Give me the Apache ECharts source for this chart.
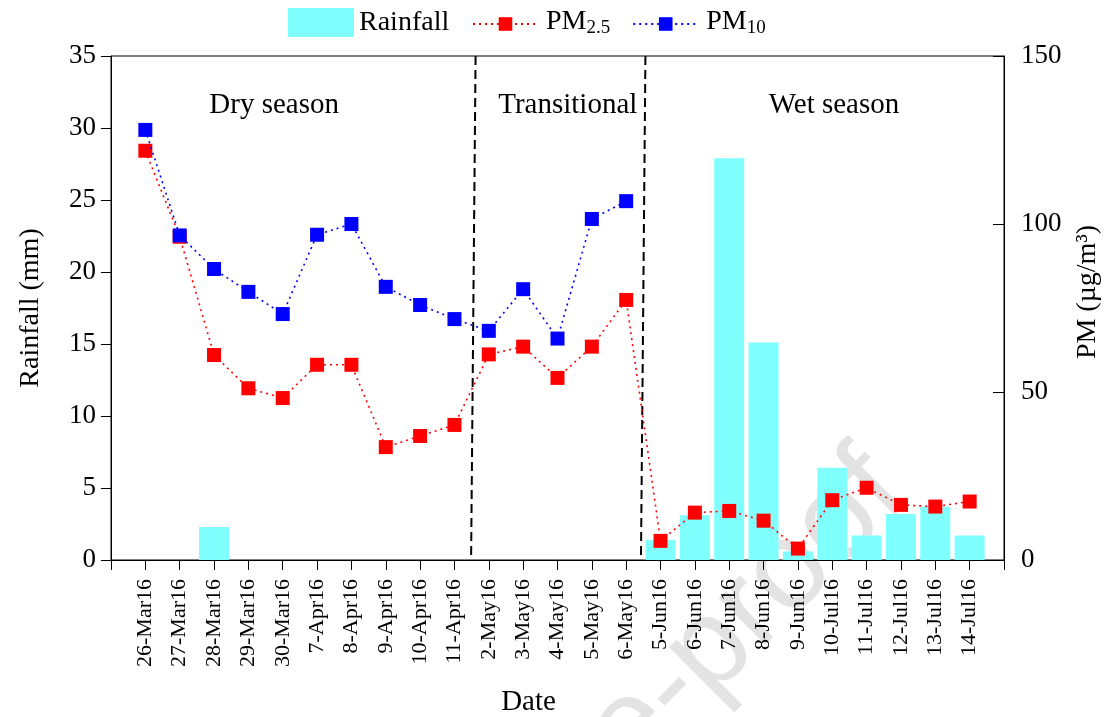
<!DOCTYPE html>
<html><head><meta charset="utf-8">
<script src="https://cdn.jsdelivr.net/npm/echarts@6/dist/echarts.min.js"></script>
<style>html,body{margin:0;padding:0;background:#fff}#c{width:1106px;height:717px}</style>
</head><body><div id="c"></div>
<script>
const categories = ['26-Mar16','27-Mar16','28-Mar16','29-Mar16','30-Mar16','7-Apr16','8-Apr16','9-Apr16','10-Apr16','11-Apr16',
  '2-May16','3-May16','4-May16','5-May16','6-May16','5-Jun16','6-Jun16','7-Jun16','8-Jun16','9-Jun16',
  '10-Jul16','11-Jul16','12-Jul16','13-Jul16','14-Jul16'];
const rainfall = [null,null,2.3,null,null,null,null,null,null,null,null,null,null,null,null,1.4,3.1,27.9,15.1,0.6,6.4,1.7,3.2,3.7,1.7];
const pm25 = [121.8,96.2,61.0,51.1,48.2,58.1,58.1,33.6,36.9,40.2,61.2,63.5,54.2,63.5,77.4,5.7,14.1,14.6,11.7,3.4,17.8,21.5,16.4,15.9,17.4];
const pm10 = [128.0,96.6,86.6,79.8,73.2,96.8,100.0,81.3,75.9,71.7,68.2,80.6,65.9,101.5,106.8];
const rainTicks = {min:0, max:35, interval:5};
const pmTicks = {min:0, max:150, interval:50};
const seasonLabels = [['Dry season',3.75],['Transitional',12.3],['Wet season',20.05]];
const seasonBreaks = [[9.615,9.484],[14.56,14.43]];

const FONT = '"Liberation Serif","Times New Roman",serif';
const chart = echarts.init(document.getElementById('c'));
const idx = a => a.map((v,i)=>[i,v]).filter(d=>d[1]!=null);

const option = {
  animation:false,
  backgroundColor:'#fff',
  textStyle:{fontFamily:FONT,color:'#000'},
  grid:{left:111,right:102,top:56,bottom:157,outerBoundsMode:'none',containLabel:false,
    show:true,borderColor:'#000',borderWidth:1,backgroundColor:'transparent'},
  legend:[{
    data:[{name:'Rainfall',icon:'rect'}], left:288, top:8, padding:0, itemWidth:66, itemHeight:29,
    textStyle:{fontFamily:FONT,fontSize:28,color:'#000'}
  },{
    data:['PM2.5','PM10'], left:472, top:5, padding:0, itemWidth:65, itemHeight:17, itemGap:22,
    formatter: n => n==='PM2.5' ? '{m|PM}{s|2.5}' : '{m|PM}{s|10}',
    textStyle:{fontFamily:FONT,color:'#000',
      rich:{m:{fontFamily:FONT,fontSize:28,lineHeight:28,padding:[3,0,7,3],color:'#000'},
            s:{fontFamily:FONT,fontSize:19,lineHeight:19,verticalAlign:'bottom',color:'#000'}}}
  }],
  xAxis:{type:'value',min:-1,max:25,interval:1,
    name:'Date',nameLocation:'middle',nameGap:128,
    nameTextStyle:{fontFamily:FONT,fontSize:29,color:'#000',padding:[0,58,0,0]},
    axisLine:{show:true,onZero:false,lineStyle:{color:'#000',width:1}},
    axisTick:{show:true,inside:false,length:10,lineStyle:{color:'#000'}},
    splitLine:{show:false},
    axisLabel:{rotate:90,margin:19,fontFamily:FONT,fontSize:22,color:'#000',
      formatter:v=>categories[v]||''}
  },
  yAxis:[{type:'value',position:'left',min:rainTicks.min,max:rainTicks.max,interval:rainTicks.interval,
    name:'Rainfall (mm)',nameLocation:'middle',nameRotate:90,nameGap:66,
    nameTextStyle:{fontFamily:FONT,fontSize:28,color:'#000'},
    axisLine:{show:true,onZero:false,lineStyle:{color:'#000'}},
    axisTick:{show:true,inside:false,length:10,lineStyle:{color:'#000'}},
    splitLine:{show:false},
    axisLabel:{margin:15,fontFamily:FONT,fontSize:27,color:'#000'}
  },{type:'value',position:'right',min:pmTicks.min,max:pmTicks.max,interval:pmTicks.interval,
    name:'PM (µg/m³)',nameLocation:'middle',nameRotate:90,nameGap:70,
    nameTextStyle:{fontFamily:FONT,fontSize:28,color:'#000',padding:[0,0,0,32]},
    axisLine:{show:true,onZero:false,lineStyle:{color:'#000'}},
    axisTick:{show:true,inside:true,length:11,lineStyle:{color:'#000'}},
    splitLine:{show:false},
    axisLabel:{margin:17,fontFamily:FONT,fontSize:27,color:'#000'}
  }],
  graphic:[{type:'text',z:-10,silent:true,
    x:843,y:430,rotation:Math.PI/4,
    style:{text:'Journal Pre-proof',fontFamily:'"Liberation Sans",Arial,sans-serif',fontSize:125,
      fill:'#e3e3e3',align:'right',verticalAlign:'top'}}],
  series:[{
    name:'Rainfall',type:'bar',xAxisIndex:0,yAxisIndex:0,barWidth:30,
    itemStyle:{color:'#80ffff'},
    data:idx(rainfall),z:3,
    markLine:{silent:true,symbol:'none',label:{show:false},
      lineStyle:{color:'#000',type:[9,5],width:2},
      data:seasonBreaks.map(b=>[{coord:[b[0],rainTicks.max]},{coord:[b[1],rainTicks.min]}])}
  },{
    name:'PM2.5',type:'line',yAxisIndex:1,symbol:'rect',symbolSize:14,
    lineStyle:{color:'#ff0000',width:1.6,type:[2,4]},itemStyle:{color:'#ff0000'},
    data:idx(pm25),z:5
  },{
    name:'PM10',type:'line',yAxisIndex:1,symbol:'rect',symbolSize:14,
    lineStyle:{color:'#0000ff',width:1.6,type:[2,4]},itemStyle:{color:'#0000ff'},
    data:idx(pm10),z:6
  },{
    name:'seasons',type:'scatter',yAxisIndex:0,symbolSize:0,silent:true,
    itemStyle:{opacity:1},
    data:seasonLabels.map(s=>({value:[s[1],31.6],label:{show:true,formatter:s[0],color:'#000'}})),
    label:{position:'inside',fontFamily:FONT,fontSize:29,color:'#000',textBorderWidth:0,opacity:1},z:7
  }]
};
chart.setOption(option);
</script></body></html>
